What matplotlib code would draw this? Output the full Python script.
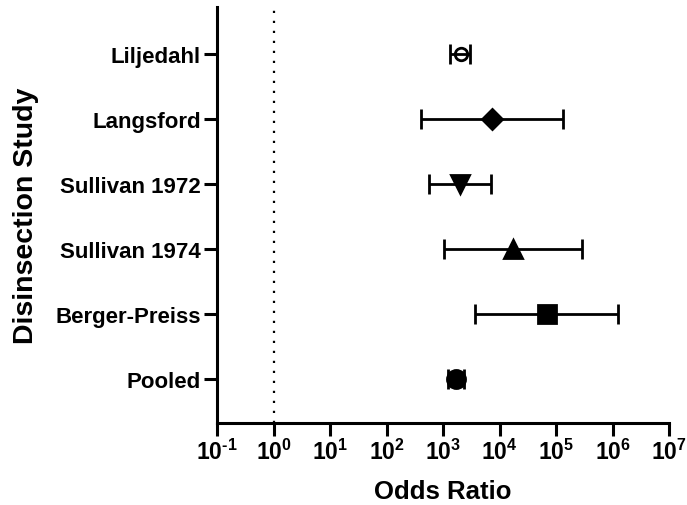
import matplotlib
matplotlib.use("Agg")
import matplotlib.pyplot as plt
import numpy as np
from matplotlib.ticker import FixedLocator, FuncFormatter

plt.rcParams['font.family'] = ['Liberation Sans', 'DejaVu Sans']
plt.rcParams['font.weight'] = 'bold'
plt.rcParams['mathtext.fontset'] = 'custom'
plt.rcParams['mathtext.rm'] = 'Liberation Sans:bold'
plt.rcParams['mathtext.bf'] = 'Liberation Sans:bold'
plt.rcParams['mathtext.default'] = 'bf'

studies = ["Liljedahl", "Langsford", "Sullivan 1972", "Sullivan 1974", "Berger-Preiss", "Pooled"]
odds = [2050, 7400, 2000, 17000, 68000, 1660]
lower = [1350, 400, 560, 1050, 3600, 1230]
upper = [2950, 135000, 6900, 290000, 1260000, 2340]
markers = ["o", "D", "v", "^", "s", "o"]
filled = [False, True, True, True, True, True]
msizes = [9, 10, 13, 13, 13, 13]
decades = list(range(-1, 8))

fig = plt.figure(figsize=(6.87, 5.06), dpi=100)
ax = fig.add_axes([0.316, 0.162, 0.658, 0.822])

n = len(studies)
ypos = np.arange(n)[::-1]
for i in range(n):
    ax.errorbar(odds[i], ypos[i],
                xerr=[[odds[i] - lower[i]], [upper[i] - odds[i]]],
                fmt='none', ecolor='black', elinewidth=2, capsize=7, capthick=2, zorder=2)
    ax.plot(odds[i], ypos[i], marker=markers[i], markersize=msizes[i],
            markerfacecolor='black' if filled[i] else 'none',
            markeredgecolor='black', markeredgewidth=2, linestyle='none', zorder=3)

ax.axvline(1, color='black', linestyle=(0, (1, 3.5)), linewidth=1.6, zorder=1)

ax.set_xscale('log')
ax.set_xlim(0.1, 1e7)
ax.set_ylim(-0.68, n - 1 + 0.72)
ax.xaxis.set_major_locator(FixedLocator([10.0 ** k for k in decades]))
ax.xaxis.set_minor_locator(FixedLocator([]))


def fmt(v, p):
    k = int(round(np.log10(v)))
    if k < 0:
        return r'$\mathbf{10^{\text{-}%d}}$' % (-k)
    return r'$\mathbf{10^{%d}}$' % k


ax.xaxis.set_major_formatter(FuncFormatter(fmt))
ax.set_yticks(ypos)
ax.set_yticklabels(studies)

for s in ['top', 'right']:
    ax.spines[s].set_visible(False)
for s in ['left', 'bottom']:
    ax.spines[s].set_linewidth(2.2)

ax.tick_params(axis='both', direction='out', length=9.5, width=2.2, pad=2)
ax.tick_params(axis='y', labelsize=16)
ax.tick_params(axis='x', labelsize=16.5)
for lab in ax.get_yticklabels():
    lab.set_fontweight('bold')

ax.set_xlabel('Odds Ratio', fontsize=18.5, fontweight='bold', labelpad=11)
ax.set_ylabel('Disinsection Study', fontsize=20.5, fontweight='bold', labelpad=12)

fig.savefig('out.png', dpi=100)
